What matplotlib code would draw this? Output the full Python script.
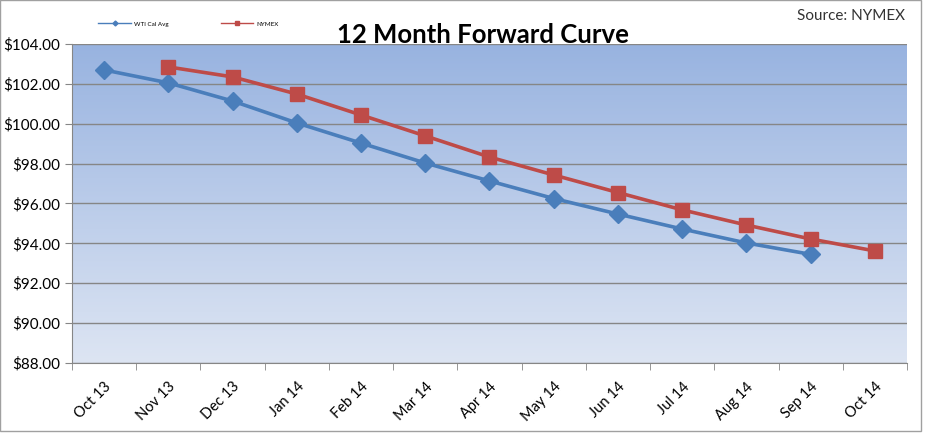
import numpy as np
import matplotlib
matplotlib.use("Agg")
import matplotlib.pyplot as plt
from matplotlib.colors import LinearSegmentedColormap
from matplotlib.patches import Rectangle
from matplotlib.lines import Line2D

months = ["Oct 13", "Nov 13", "Dec 13", "Jan 14", "Feb 14", "Mar 14", "Apr 14",
          "May 14", "Jun 14", "Jul 14", "Aug 14", "Sep 14", "Oct 14"]
wti = [102.70, 102.05, 101.14, 100.04, 99.03, 98.03, 97.13, 96.25, 95.47,
       94.72, 94.02, 93.45, None]
nymex = [None, 102.85, 102.35, 101.49, 100.44, 99.39, 98.33, 97.43, 96.55,
         95.68, 94.92, 94.22, 93.62]
yticks = [88, 90, 92, 94, 96, 98, 100, 102, 104]

plt.rcParams['font.family'] = ['Lato', 'DejaVu Sans']

fig = plt.figure(figsize=(9.25, 4.33), dpi=100)
ax = fig.add_axes([0.0778, 0.1617, 0.9027, 0.7367])

# gradient background of plot area
cmap = LinearSegmentedColormap.from_list("bg", ["#dde5f3", "#98b3e0"])
grad = np.linspace(0, 1, 256).reshape(-1, 1)
ax.imshow(grad, cmap=cmap, aspect="auto", extent=[0, 1, 0, 1],
          transform=ax.transAxes, origin="lower", zorder=0)

x = np.arange(len(months))
wx = [i for i, v in enumerate(wti) if v is not None]
wy = [v for v in wti if v is not None]
nx = [i for i, v in enumerate(nymex) if v is not None]
ny = [v for v in nymex if v is not None]

blue, red = "#4a7ebb", "#be4b48"
ax.plot(wx, wy, color=blue, lw=2.6, marker="D", ms=9,
        markeredgecolor=blue, zorder=3)
ax.plot(nx, ny, color=red, lw=2.6, marker="s", ms=10,
        markeredgecolor=red, zorder=4)

ax.set_xlim(-0.5, len(months) - 0.5)
ax.set_ylim(88, 104)
ax.set_yticks(yticks)
ax.set_yticklabels(["${:.2f}".format(v) for v in yticks], fontsize=11)
ax.yaxis.grid(True, color="#868686", lw=1)
for l in ax.get_ygridlines():
    l.set_zorder(1)

ax.set_xticks(x)
ax.set_xticklabels(months, rotation=45, fontsize=10.5, ha="right", va="top",
                   rotation_mode="anchor")
ax.set_xticks(np.arange(-0.5, len(months)), minor=True)
ax.tick_params(axis="x", which="major", length=0, pad=12)
ax.tick_params(axis="x", which="minor", length=5, color="#868686")
ax.tick_params(axis="y", length=5, color="#868686", direction="out")

for s in ["top", "right"]:
    ax.spines[s].set_visible(False)
for s in ["left", "bottom"]:
    ax.spines[s].set_color("#868686")

fig.text(0.522, 0.92, "12 Month Forward Curve", ha="center", va="center",
         fontsize=18.5, fontweight="bold")
fig.text(0.978, 0.963, "Source: NYMEX", ha="right", va="center", fontsize=11,
         color="#333333")

handles = [Line2D([], [], color=blue, lw=1, marker="D", ms=2.5),
           Line2D([], [], color=red, lw=1, marker="s", ms=2.5)]
ax.legend(handles, ["WTI Cal Avg", "NYMEX"], loc="center left",
          bbox_to_anchor=(0.028, 1.063), ncol=2, frameon=False,
          fontsize=4.5, handlelength=5.2, handletextpad=0.5, columnspacing=8.3,
          borderpad=0)

fig.patches.append(Rectangle((0.0, 0.004), 0.996, 0.995, transform=fig.transFigure,
                             fill=False, edgecolor="#a0a0a0", lw=1))

fig.savefig("out.png", dpi=100)
